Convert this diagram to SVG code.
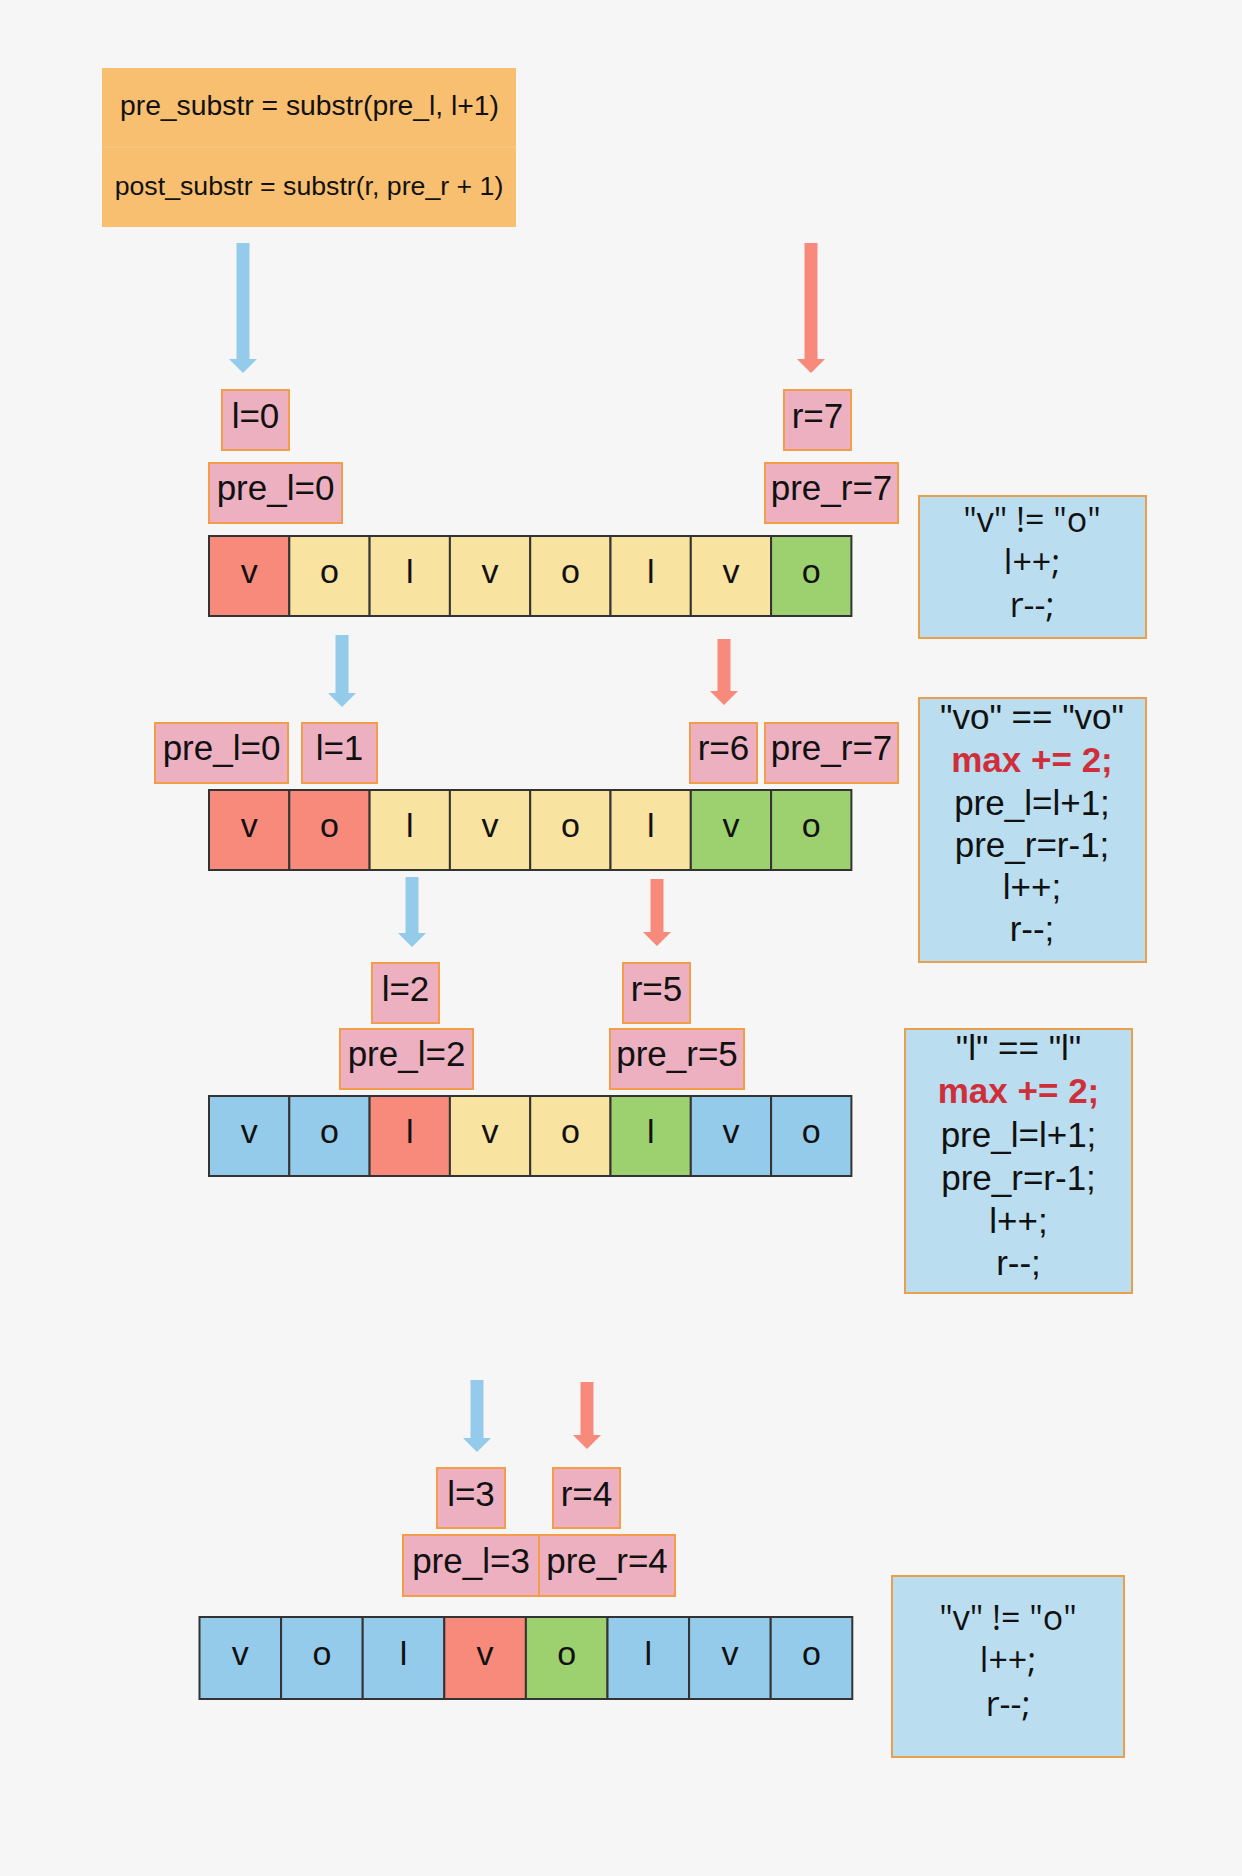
<svg xmlns="http://www.w3.org/2000/svg" width="1242" height="1876" viewBox="0 0 1242 1876">
<style>
.lbl rect{fill:#ECB0C1;stroke:#F39C4A;stroke-width:2}
.lbl text{font-family:"Liberation Sans",Arial,sans-serif;font-size:35px;fill:#111;text-anchor:middle}
.cell rect{stroke:#333;stroke-width:2}
.cell text{font-family:"Liberation Sans",Arial,sans-serif;font-size:34px;fill:#111;text-anchor:middle}
.R{fill:#F88A7C}.Y{fill:#F8E3A1}.G{fill:#9DD170}.B{fill:#94CBEA}
.note rect{fill:#BBDDF0;stroke:#E8A04E;stroke-width:2}
.note text{fill:#111;text-anchor:middle}
.note .os{font-family:"Open Sans","Noto Sans",sans-serif;font-size:34px}
.note .ls{font-family:"Liberation Sans",Arial,sans-serif;font-size:35px}
.note text.red{fill:#CF2F3B;font-weight:bold}
.ab{fill:#94CBEA}.ar{fill:#F88A7C}
</style>
<rect width="1242" height="1876" fill="#F6F6F6"/>

<g id="formula">
<rect x="102" y="68" width="414" height="159" fill="#F8BF70"/>
<line x1="102" y1="147" x2="516" y2="147" stroke="#F9C67E" stroke-width="1.5"/>
<text x="309.5" y="115" font-family="Liberation Sans,Arial,sans-serif" font-size="28.3" fill="#111" text-anchor="middle">pre_substr = substr(pre_l, l+1)</text>
<text x="309" y="195" font-family="Liberation Sans,Arial,sans-serif" font-size="26.7" fill="#111" text-anchor="middle">post_substr = substr(r, pre_r + 1)</text>
</g>

<g id="connectors">
<path class="ab" d="M236.5,243H249.5V359H257L243,373L229,359H236.5Z"/>
<path class="ar" d="M804.5,243H817.5V359H825L811,373L797,359H804.5Z"/>
<path class="ab" d="M335.5,635H348.5V693H356L342,707L328,693H335.5Z"/>
<path class="ar" d="M717.5,639H730.5V691H738L724,705L710,691H717.5Z"/>
<path class="ab" d="M405.5,877H418.5V933H426L412,947L398,933H405.5Z"/>
<path class="ar" d="M650.5,879H663.5V932H671L657,946L643,932H650.5Z"/>
<path class="ab" d="M470.5,1380H483.5V1438H491L477,1452L463,1438H470.5Z"/>
<path class="ar" d="M580.5,1382H593.5V1435H601L587,1449L573,1435H580.5Z"/>
</g>

<!-- Row 1 -->
<g id="row1-l" class="lbl"><rect x="222" y="390" width="67" height="60"/><text x="255.5" y="428">l=0</text></g>
<g id="row1-prel" class="lbl"><rect x="209" y="463" width="133" height="60"/><text x="275.5" y="500">pre_l=0</text></g>
<g id="row1-r" class="lbl"><rect x="784" y="390" width="67" height="60"/><text x="817.5" y="428">r=7</text></g>
<g id="row1-prer" class="lbl"><rect x="765" y="463" width="133" height="60"/><text x="831.5" y="500">pre_r=7</text></g>
<g id="row1-array" class="cell">
<rect class="R" x="209" y="536" width="80.3" height="80"/>
<rect class="Y" x="289.3" y="536" width="80.3" height="80"/>
<rect class="Y" x="369.6" y="536" width="80.3" height="80"/>
<rect class="Y" x="449.9" y="536" width="80.3" height="80"/>
<rect class="Y" x="530.2" y="536" width="80.3" height="80"/>
<rect class="Y" x="610.5" y="536" width="80.3" height="80"/>
<rect class="Y" x="690.8" y="536" width="80.3" height="80"/>
<rect class="G" x="771.1" y="536" width="80.3" height="80"/>
<text x="249.2" y="583">v</text><text x="329.5" y="583">o</text><text x="409.8" y="583">l</text><text x="490.1" y="583">v</text><text x="570.4" y="583">o</text><text x="650.7" y="583">l</text><text x="731" y="583">v</text><text x="811.3" y="583">o</text>
</g>
<g id="note1" class="note"><rect x="919" y="496" width="227" height="142"/>
<text class="os" x="1032" y="532">"v" != "o"</text>
<text class="os" x="1032" y="574">l++;</text>
<text class="os" x="1032" y="617">r--;</text>
</g>

<!-- Row 2 -->
<g id="row2-prel" class="lbl"><rect x="155" y="723" width="133" height="60"/><text x="221.5" y="760">pre_l=0</text></g>
<g id="row2-l" class="lbl"><rect x="302" y="723" width="75" height="60"/><text x="339.5" y="760">l=1</text></g>
<g id="row2-r" class="lbl"><rect x="690" y="723" width="67" height="60"/><text x="723.5" y="760">r=6</text></g>
<g id="row2-prer" class="lbl"><rect x="765" y="723" width="133" height="60"/><text x="831.5" y="760">pre_r=7</text></g>
<g id="row2-array" class="cell">
<rect class="R" x="209" y="790" width="80.3" height="80"/>
<rect class="R" x="289.3" y="790" width="80.3" height="80"/>
<rect class="Y" x="369.6" y="790" width="80.3" height="80"/>
<rect class="Y" x="449.9" y="790" width="80.3" height="80"/>
<rect class="Y" x="530.2" y="790" width="80.3" height="80"/>
<rect class="Y" x="610.5" y="790" width="80.3" height="80"/>
<rect class="G" x="690.8" y="790" width="80.3" height="80"/>
<rect class="G" x="771.1" y="790" width="80.3" height="80"/>
<text x="249.2" y="837">v</text><text x="329.5" y="837">o</text><text x="409.8" y="837">l</text><text x="490.1" y="837">v</text><text x="570.4" y="837">o</text><text x="650.7" y="837">l</text><text x="731" y="837">v</text><text x="811.3" y="837">o</text>
</g>
<g id="note2" class="note"><rect x="919" y="698" width="227" height="264"/>
<text class="ls" x="1032" y="729">"vo" == "vo"</text>
<text class="ls red" x="1032" y="772">max += 2;</text>
<text class="ls" x="1032" y="815">pre_l=l+1;</text>
<text class="ls" x="1032" y="857">pre_r=r-1;</text>
<text class="ls" x="1032" y="899">l++;</text>
<text class="ls" x="1032" y="941">r--;</text>
</g>

<!-- Row 3 -->
<g id="row3-l" class="lbl"><rect x="372" y="963" width="67" height="60"/><text x="405.5" y="1001">l=2</text></g>
<g id="row3-prel" class="lbl"><rect x="340" y="1029" width="133" height="60"/><text x="406.5" y="1066">pre_l=2</text></g>
<g id="row3-r" class="lbl"><rect x="623" y="963" width="67" height="60"/><text x="656.5" y="1001">r=5</text></g>
<g id="row3-prer" class="lbl"><rect x="610" y="1029" width="134" height="60"/><text x="677" y="1066">pre_r=5</text></g>
<g id="row3-array" class="cell">
<rect class="B" x="209" y="1096" width="80.3" height="80"/>
<rect class="B" x="289.3" y="1096" width="80.3" height="80"/>
<rect class="R" x="369.6" y="1096" width="80.3" height="80"/>
<rect class="Y" x="449.9" y="1096" width="80.3" height="80"/>
<rect class="Y" x="530.2" y="1096" width="80.3" height="80"/>
<rect class="G" x="610.5" y="1096" width="80.3" height="80"/>
<rect class="B" x="690.8" y="1096" width="80.3" height="80"/>
<rect class="B" x="771.1" y="1096" width="80.3" height="80"/>
<text x="249.2" y="1143">v</text><text x="329.5" y="1143">o</text><text x="409.8" y="1143">l</text><text x="490.1" y="1143">v</text><text x="570.4" y="1143">o</text><text x="650.7" y="1143">l</text><text x="731" y="1143">v</text><text x="811.3" y="1143">o</text>
</g>
<g id="note3" class="note"><rect x="905" y="1029" width="227" height="264"/>
<text class="ls" x="1018.5" y="1060">"l" == "l"</text>
<text class="ls red" x="1018.5" y="1103">max += 2;</text>
<text class="ls" x="1018.5" y="1147">pre_l=l+1;</text>
<text class="ls" x="1018.5" y="1190">pre_r=r-1;</text>
<text class="ls" x="1018.5" y="1233">l++;</text>
<text class="ls" x="1018.5" y="1275">r--;</text>
</g>

<!-- Row 4 -->
<g id="row4-l" class="lbl"><rect x="437" y="1468" width="68" height="60"/><text x="471" y="1506">l=3</text></g>
<g id="row4-r" class="lbl"><rect x="553" y="1468" width="67" height="60"/><text x="586.5" y="1506">r=4</text></g>
<g id="row4-prel" class="lbl"><rect x="403" y="1535" width="136" height="61"/><text x="471" y="1573">pre_l=3</text></g>
<g id="row4-prer" class="lbl"><rect x="539" y="1535" width="136" height="61"/><text x="607" y="1573">pre_r=4</text></g>
<g id="row4-array" class="cell">
<rect class="B" x="199.5" y="1617" width="81.6" height="82"/>
<rect class="B" x="281.1" y="1617" width="81.6" height="82"/>
<rect class="B" x="362.7" y="1617" width="81.6" height="82"/>
<rect class="R" x="444.3" y="1617" width="81.6" height="82"/>
<rect class="G" x="525.9" y="1617" width="81.6" height="82"/>
<rect class="B" x="607.5" y="1617" width="81.6" height="82"/>
<rect class="B" x="689.1" y="1617" width="81.6" height="82"/>
<rect class="B" x="770.7" y="1617" width="81.6" height="82"/>
<text x="240.3" y="1665">v</text><text x="321.9" y="1665">o</text><text x="403.5" y="1665">l</text><text x="485.1" y="1665">v</text><text x="566.7" y="1665">o</text><text x="648.3" y="1665">l</text><text x="729.9" y="1665">v</text><text x="811.5" y="1665">o</text>
</g>
<g id="note4" class="note"><rect x="892" y="1576" width="232" height="181"/>
<text class="os" x="1008" y="1630">"v" != "o"</text>
<text class="os" x="1008" y="1672">l++;</text>
<text class="os" x="1008" y="1716">r--;</text>
</g>
</svg>
